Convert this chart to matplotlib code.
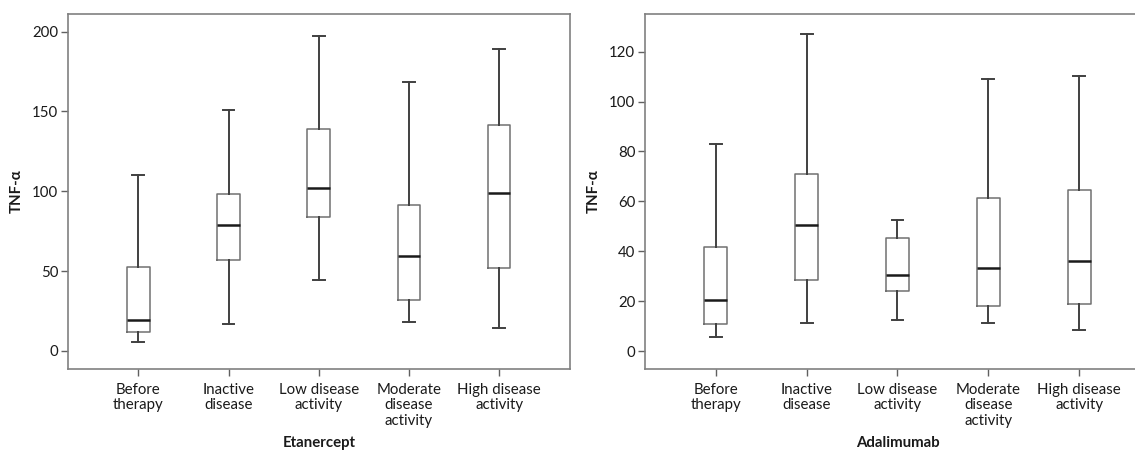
import matplotlib
matplotlib.use("Agg")
import matplotlib.pyplot as plt

categories = ["Before\ntherapy", "Inactive\ndisease", "Low disease\nactivity",
              "Moderate\ndisease\nactivity", "High disease\nactivity"]

# Etanercept: whisker low, Q1, median, Q3, whisker high
eta_low = [5.8, 16.7, 44.3, 18.4, 14.6]
eta_q1 = [11.9, 56.8, 84.1, 32.1, 52.0]
eta_med = [19.2, 78.7, 101.9, 59.3, 98.7]
eta_q3 = [52.4, 98.5, 138.8, 91.2, 141.5]
eta_high = [110.0, 151.0, 197.0, 168.2, 188.9]

# Adalimumab
ada_low = [5.7, 11.4, 12.6, 11.2, 8.5]
ada_q1 = [10.9, 28.5, 24.2, 17.9, 18.8]
ada_med = [20.6, 50.4, 30.5, 33.3, 36.0]
ada_q3 = [41.6, 70.8, 45.2, 61.5, 64.4]
ada_high = [82.9, 127.1, 52.7, 109.1, 110.1]

eta_ticks = [0, 50, 100, 150, 200]
ada_ticks = [0, 20, 40, 60, 80, 100, 120]

plt.rcParams['font.family'] = ['Lato', 'DejaVu Sans']

W, H = 1135, 451
fig = plt.figure(figsize=(W / 100, H / 100), dpi=100)

def px_axes(x0, x1, y_top, y_bot):
    return fig.add_axes([x0 / W, 1 - y_bot / H, (x1 - x0) / W, (y_bot - y_top) / H])

ax1 = px_axes(68, 569.5, 14, 369)
ax2 = px_axes(645, 1150, 14, 369)

def draw(ax, low, q1, med, q3, high, ylim, yticks, xlabel):
    stats = []
    for i in range(len(low)):
        stats.append(dict(whislo=low[i], q1=q1[i], med=med[i], q3=q3[i],
                          whishi=high[i], fliers=[], label=categories[i]))
    ax.bxp(stats, positions=list(range(len(low))), widths=0.25,
           showfliers=False, capwidths=0.13,
           boxprops=dict(color="#707070", linewidth=1.1),
           whiskerprops=dict(color="#404040", linewidth=1.4),
           capprops=dict(color="#404040", linewidth=1.4),
           medianprops=dict(color="#1a1a1a", linewidth=1.8))
    ax.set_xlim(-0.78, 4.78)
    ax.set_ylim(*ylim)
    ax.set_yticks(yticks)
    ax.set_xticks(range(len(categories)))
    ax.set_xticklabels(categories, fontsize=10.8, color="#1a1a1a", linespacing=1.12)
    ax.tick_params(axis="y", labelsize=10.8, labelcolor="#1a1a1a")
    ax.tick_params(colors="#606060", length=5, width=1)
    ax.tick_params(axis="x", labelcolor="#1a1a1a", pad=5)
    ax.tick_params(axis="y", labelcolor="#1a1a1a", pad=2)
    for s in ax.spines.values():
        s.set_color("#808080")
        s.set_linewidth(1.2)
    ax.set_ylabel("TNF-α", fontsize=10.8, fontweight="bold", color="#1a1a1a", labelpad=6)
    ax.set_xlabel(xlabel, fontsize=10.8, fontweight="bold", color="#1a1a1a", labelpad=6)

draw(ax1, eta_low, eta_q1, eta_med, eta_q3, eta_high, (-11.3, 211), eta_ticks, "Etanercept")
draw(ax2, ada_low, ada_q1, ada_med, ada_q3, ada_high, (-7.2, 135.1), ada_ticks, "Adalimumab")

fig.savefig("out.png", dpi=100)
